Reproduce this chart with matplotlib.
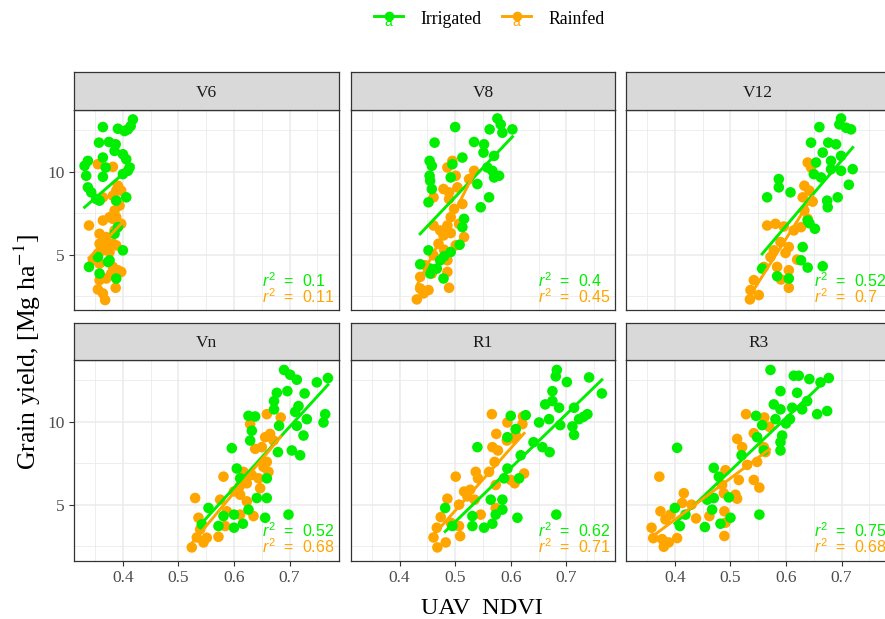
import numpy as np
import matplotlib
matplotlib.use("Agg")
import matplotlib.pyplot as plt
from matplotlib.lines import Line2D

plt.rcParams['font.family'] = ['Liberation Serif', 'DejaVu Serif']
plt.rcParams['mathtext.fontset'] = 'custom'
plt.rcParams['mathtext.rm'] = 'Liberation Sans'
plt.rcParams['mathtext.it'] = 'Liberation Sans:italic'

# ---- data (UAV NDVI vs grain yield) ----
stages = ['V6', 'V8', 'V12', 'Vn', 'R1', 'R3']

v6_irr_x = [0.364, 0.391, 0.403, 0.409, 0.414, 0.418, 0.357, 0.375, 0.387, 0.385, 0.400, 0.406,
            0.337, 0.331, 0.334, 0.337, 0.343, 0.364, 0.369, 0.364, 0.409, 0.412, 0.400, 0.406,
            0.352, 0.358, 0.391, 0.385, 0.400, 0.339, 0.358, 0.376, 0.388, 0.373, 0.355, 0.388]
v6_irr_y = [12.70, 12.60, 12.46, 12.56, 12.76, 13.16, 11.76, 11.80, 11.66, 11.26, 11.06, 10.76,
            10.66, 10.36, 9.76, 9.06, 8.76, 10.86, 10.26, 9.70, 10.06, 10.26, 9.86, 8.46,
            8.36, 8.26, 6.66, 6.26, 5.26, 4.26, 3.86, 4.66, 3.56, 4.56, 4.86, 8.26]
v6_rf_x = [0.355, 0.382, 0.388, 0.391, 0.382, 0.364, 0.388, 0.394, 0.385, 0.397, 0.339, 0.388,
           0.382, 0.376, 0.364, 0.397, 0.385, 0.358, 0.370, 0.358, 0.382, 0.388, 0.373, 0.364,
           0.355, 0.376, 0.346, 0.358, 0.382, 0.391, 0.397, 0.379, 0.358, 0.355, 0.364, 0.368,
           0.387, 0.370]
v6_rf_y = [10.46, 10.30, 8.86, 9.16, 8.56, 8.46, 8.26, 7.96, 7.66, 8.86, 6.76, 7.26,
           7.16, 7.26, 7.06, 6.86, 6.46, 6.26, 6.06, 5.66, 5.66, 5.56, 5.46, 5.26,
           5.06, 5.16, 4.66, 4.46, 4.26, 4.06, 3.96, 3.86, 3.46, 2.90, 2.66, 2.26,
           3.00, 3.56]

v8_irr_x = [0.576, 0.582, 0.585, 0.603, 0.562, 0.500, 0.463, 0.534, 0.552, 0.551, 0.570, 0.454,
            0.458, 0.495, 0.513, 0.558, 0.567, 0.579, 0.570, 0.454, 0.455, 0.492, 0.458, 0.540,
            0.452, 0.561, 0.546, 0.516, 0.513, 0.452, 0.492, 0.437, 0.455, 0.467, 0.479, 0.455,
            0.473, 0.508, 0.480]
v8_irr_y = [13.22, 12.86, 12.36, 12.56, 12.56, 12.70, 11.76, 11.80, 11.66, 11.16, 10.96, 10.66,
            10.36, 10.46, 10.86, 10.26, 10.06, 9.76, 9.66, 9.76, 9.46, 9.66, 8.96, 9.26,
            8.16, 8.46, 7.86, 7.16, 6.66, 5.26, 5.16, 4.42, 4.16, 4.16, 3.56, 3.86,
            4.66, 5.60, 4.90]
v8_rf_x = [0.486, 0.495, 0.501, 0.479, 0.489, 0.504, 0.489, 0.461, 0.534, 0.525, 0.513, 0.498,
           0.492, 0.486, 0.461, 0.473, 0.507, 0.516, 0.479, 0.470, 0.501, 0.461, 0.486, 0.446,
           0.458, 0.486, 0.437, 0.452, 0.443, 0.431, 0.489, 0.437, 0.492, 0.480]
v8_rf_y = [10.26, 10.66, 9.76, 8.96, 8.76, 9.06, 8.36, 8.46, 10.06, 9.56, 8.06, 7.76,
           7.26, 6.76, 6.76, 6.46, 6.86, 6.06, 6.16, 5.66, 5.56, 4.96, 4.66, 4.36,
           3.86, 3.96, 2.96, 2.86, 2.66, 2.30, 3.00, 3.66, 6.30, 5.30]

v12_irr_x = [0.699, 0.696, 0.708, 0.717, 0.660, 0.645, 0.676, 0.690, 0.699, 0.666, 0.681, 0.654,
             0.681, 0.699, 0.720, 0.650, 0.663, 0.587, 0.587, 0.608, 0.566, 0.713, 0.674, 0.693,
             0.675, 0.639, 0.652, 0.630, 0.627, 0.639, 0.666, 0.557, 0.584, 0.605, 0.642]
v12_irr_y = [13.22, 12.86, 12.66, 12.56, 12.70, 11.76, 11.76, 11.66, 10.96, 11.16, 10.66, 10.56,
             10.16, 10.06, 10.16, 9.86, 9.66, 9.56, 9.06, 8.76, 8.46, 9.22, 8.26, 8.46,
             7.86, 7.06, 6.56, 5.46, 4.66, 4.22, 4.30, 4.16, 3.70, 3.56, 6.90]
v12_rf_x = [0.639, 0.645, 0.633, 0.642, 0.630, 0.633, 0.639, 0.566, 0.581, 0.614, 0.627, 0.590,
            0.605, 0.578, 0.572, 0.560, 0.584, 0.605, 0.542, 0.536, 0.551, 0.535, 0.605, 0.596,
            0.620, 0.591, 0.599, 0.648]
v12_rf_y = [10.56, 10.26, 9.16, 8.86, 8.46, 7.66, 7.16, 6.76, 6.86, 6.46, 6.66, 5.76,
            5.46, 5.26, 4.86, 4.26, 4.26, 4.06, 3.46, 2.86, 2.56, 2.30, 3.00, 6.70,
            4.70, 3.50, 5.10, 8.20]

vn_irr_x = [0.690, 0.701, 0.713, 0.749, 0.769, 0.677, 0.696, 0.727, 0.672, 0.672, 0.716, 0.626,
            0.638, 0.764, 0.761, 0.731, 0.681, 0.713, 0.725, 0.632, 0.629, 0.596, 0.679, 0.704,
            0.719, 0.605, 0.611, 0.659, 0.659, 0.641, 0.554, 0.581, 0.600, 0.626, 0.572, 0.600,
            0.616, 0.542, 0.656, 0.698, 0.710]
vn_irr_y = [13.13, 12.84, 12.54, 12.38, 12.64, 11.75, 11.85, 11.71, 11.25, 10.75, 10.95, 10.36,
            10.32, 10.46, 9.96, 10.16, 9.76, 9.76, 9.17, 9.46, 8.87, 8.41, 8.17, 8.27,
            7.98, 7.18, 6.59, 6.59, 5.40, 5.40, 4.80, 4.31, 4.40, 4.70, 3.71, 3.61,
            3.85, 3.81, 4.21, 4.40, 10.60]
vn_rf_x = [0.659, 0.684, 0.629, 0.656, 0.665, 0.671, 0.638, 0.650, 0.659, 0.653, 0.662, 0.581,
           0.617, 0.632, 0.644, 0.623, 0.647, 0.530, 0.575, 0.611, 0.623, 0.587, 0.611, 0.635,
           0.536, 0.539, 0.584, 0.533, 0.545, 0.524, 0.572, 0.551, 0.600, 0.610]
vn_rf_y = [10.46, 10.26, 9.86, 9.07, 9.27, 8.87, 8.37, 8.47, 7.58, 7.28, 6.98, 6.69,
           6.98, 6.79, 6.59, 6.29, 5.99, 5.40, 5.30, 5.60, 5.20, 4.60, 4.40, 4.31,
           4.21, 3.51, 3.71, 3.02, 2.72, 2.42, 3.06, 3.00, 5.80, 6.10]

r1_irr_x = [0.683, 0.681, 0.701, 0.741, 0.764, 0.675, 0.675, 0.662, 0.687, 0.714, 0.723, 0.738,
            0.600, 0.627, 0.651, 0.669, 0.689, 0.711, 0.714, 0.609, 0.594, 0.540, 0.641, 0.657,
            0.670, 0.618, 0.594, 0.588, 0.615, 0.564, 0.585, 0.482, 0.531, 0.573, 0.585, 0.531,
            0.552, 0.567, 0.612, 0.682, 0.495, 0.731]
r1_irr_y = [13.13, 12.74, 12.40, 12.68, 11.71, 11.85, 11.25, 11.05, 10.85, 10.85, 10.16, 10.46,
            10.36, 10.40, 9.96, 10.16, 9.80, 9.72, 9.21, 9.56, 9.07, 8.47, 8.77, 8.47,
            8.17, 7.98, 7.18, 6.59, 6.59, 5.30, 5.30, 4.80, 4.31, 4.40, 4.70, 3.71,
            3.61, 3.85, 4.21, 4.40, 3.71, 10.30]
r1_rf_x = [0.566, 0.594, 0.621, 0.622, 0.574, 0.593, 0.567, 0.577, 0.571, 0.561, 0.501, 0.537,
           0.541, 0.624, 0.600, 0.607, 0.573, 0.516, 0.522, 0.535, 0.486, 0.507, 0.546, 0.573,
           0.474, 0.492, 0.507, 0.467, 0.461, 0.468, 0.483, 0.509, 0.609, 0.605, 0.527]
r1_rf_y = [10.46, 9.96, 9.86, 10.32, 9.27, 8.87, 8.47, 8.27, 7.58, 6.98, 6.69, 6.98,
           6.59, 6.88, 6.49, 6.29, 6.19, 5.79, 5.50, 5.30, 5.36, 5.00, 4.40, 4.80,
           4.25, 3.91, 3.71, 3.61, 3.02, 2.42, 2.72, 3.10, 9.20, 9.00, 5.90]

r3_irr_x = [0.572, 0.614, 0.623, 0.642, 0.662, 0.677, 0.590, 0.620, 0.638, 0.629, 0.578, 0.590,
            0.611, 0.607, 0.656, 0.674, 0.546, 0.557, 0.581, 0.593, 0.590, 0.590, 0.404, 0.548,
            0.560, 0.520, 0.470, 0.479, 0.497, 0.470, 0.458, 0.467, 0.400, 0.409, 0.419, 0.454,
            0.482, 0.500, 0.552, 0.600]
r3_irr_y = [13.13, 12.78, 12.78, 12.58, 12.38, 12.64, 11.85, 11.75, 11.25, 10.75, 11.05, 10.75,
            10.85, 10.16, 10.46, 10.65, 10.36, 9.80, 10.16, 9.17, 8.77, 8.27, 8.43, 9.07,
            8.27, 7.98, 7.22, 6.69, 5.44, 5.40, 5.30, 4.70, 4.80, 3.71, 4.40, 3.65,
            3.85, 4.21, 4.40, 9.90]
r3_rf_x = [0.528, 0.561, 0.512, 0.521, 0.542, 0.560, 0.563, 0.548, 0.372, 0.491, 0.515, 0.542,
           0.552, 0.485, 0.488, 0.509, 0.512, 0.416, 0.413, 0.374, 0.392, 0.383, 0.438, 0.462,
           0.489, 0.491, 0.358, 0.361, 0.377, 0.389, 0.380, 0.404, 0.489, 0.530, 0.570, 0.430]
r3_rf_y = [10.46, 10.26, 8.97, 8.47, 9.31, 8.47, 8.17, 7.58, 6.69, 7.08, 6.49, 6.49,
           6.03, 6.19, 5.69, 5.60, 5.36, 5.69, 5.10, 4.60, 4.40, 4.11, 4.17, 4.31,
           4.60, 3.91, 3.61, 2.98, 2.92, 2.72, 2.46, 2.98, 3.11, 7.40, 9.70, 5.00]

irr_r2_labels = ['0.1', '0.4', '0.52', '0.52', '0.62', '0.75']
rf_r2_labels = ['0.11', '0.45', '0.7', '0.68', '0.71', '0.68']

irr_x = [v6_irr_x, v8_irr_x, v12_irr_x, vn_irr_x, r1_irr_x, r3_irr_x]
irr_y = [v6_irr_y, v8_irr_y, v12_irr_y, vn_irr_y, r1_irr_y, r3_irr_y]
rf_x = [v6_rf_x, v8_rf_x, v12_rf_x, vn_rf_x, r1_rf_x, r3_rf_x]
rf_y = [v6_rf_y, v8_rf_y, v12_rf_y, vn_rf_y, r1_rf_y, r3_rf_y]

GREEN = '#00EE00'
ORANGE = '#FFA500'

W, H = 885, 619
fig = plt.figure(figsize=(W / 100, H / 100), dpi=100)

# panel grid in pixels (the right column runs past the picture edge, as in the reference)
col_left = [74, 350.7, 626]
panel_w = 264.5
row_strip_top = [71.5, 322.5]
row_panel_top = [110, 360]
panel_h = 200.5


def fbox(x, y, w, h):
    # pixel box (top-left origin) -> figure fraction
    return [x / W, 1 - (y + h) / H, w / W, h / H]


for i, stage in enumerate(stages):
    r, c = divmod(i, 3)
    ax = fig.add_axes(fbox(col_left[c], row_panel_top[r], panel_w, panel_h))
    ax.set_xlim(0.312, 0.788)
    ax.set_ylim(1.63, 13.73)
    ax.set_xticks([0.4, 0.5, 0.6, 0.7])
    ax.set_xticks([0.35, 0.45, 0.55, 0.65, 0.75], minor=True)
    ax.set_yticks([5, 10])
    ax.set_yticks([2.5, 7.5, 12.5], minor=True)
    ax.grid(True, which='major', color='#EBEBEB', lw=1.1)
    ax.grid(True, which='minor', color='#EBEBEB', lw=0.6)
    ax.set_axisbelow(True)
    for s in ax.spines.values():
        s.set_color('#333333')
        s.set_linewidth(0.9)
    ax.tick_params(which='minor', length=0)
    ax.tick_params(which='major', length=3.5, color='#333333', width=0.8,
                   labelsize=12.5, labelcolor='#4D4D4D', pad=3)
    if r == 0:
        ax.tick_params(axis='x', which='major', length=0, labelbottom=False)
    if c != 0:
        ax.tick_params(axis='y', which='major', length=0, labelleft=False)

    for xs, ys, col in [(rf_x[i], rf_y[i], ORANGE), (irr_x[i], irr_y[i], GREEN)]:
        ax.scatter(xs, ys, s=58, color=col, edgecolors='none', zorder=3)
    for xs, ys, col in [(irr_x[i], irr_y[i], GREEN), (rf_x[i], rf_y[i], ORANGE)]:
        xs = np.asarray(xs)
        k, b = np.polyfit(xs, ys, 1)
        xx = np.linspace(xs.min(), xs.max(), 50)
        ax.plot(xx, k * xx + b, color=col, lw=2.1, zorder=4)

    ax.text(0.71, 0.118, r'$r^2$  =  ' + irr_r2_labels[i], transform=ax.transAxes,
            color=GREEN, fontsize=11.5, family='Liberation Sans', va='baseline', ha='left',
            zorder=5)
    ax.text(0.71, 0.036, r'$r^2$  =  ' + rf_r2_labels[i], transform=ax.transAxes,
            color=ORANGE, fontsize=11.5, family='Liberation Sans', va='baseline', ha='left',
            zorder=5)

    # facet strip
    sax = fig.add_axes(fbox(col_left[c], row_strip_top[r], panel_w,
                            row_panel_top[r] - row_strip_top[r]))
    sax.set_xticks([])
    sax.set_yticks([])
    sax.set_facecolor('#D9D9D9')
    for s in sax.spines.values():
        s.set_color('#333333')
        s.set_linewidth(0.9)
    sax.text(0.5, 0.45, stage, ha='center', va='center', fontsize=12.5, color='#1A1A1A')

# axis titles
fig.text(482 / W, 1 - 609 / H, 'UAV  NDVI', ha='center', va='center', fontsize=17.5)
fig.text(27 / W, 1 - 352 / H, r'Grain yield, [Mg ha$^{-1}$]', rotation=90,
         ha='center', va='center', fontsize=18.5,
         math_fontfamily='stix')

# legend drawn by hand at the top
for x0, x1, col, label in [(374, 403, GREEN, 'Irrigated'), (502, 531, ORANGE, 'Rainfed')]:
    yl = 1 - 16 / H
    fig.add_artist(Line2D([x0 / W, x1 / W], [yl, yl], color=col, lw=2.1))
    fig.add_artist(Line2D([(x0 + x1) / 2 / W], [yl], marker='o', ms=7, color=col,
                          markeredgewidth=0))
    fig.text((x0 + x1) / 2 / W, 1 - 22 / H, 'a', color=col, fontsize=10,
             family='Liberation Sans', ha='center', va='center')
    fig.text((x1 + 17) / W, 1 - 20 / H, label, fontsize=12.8, va='center', ha='left')

fig.savefig('out.png', dpi=100)
